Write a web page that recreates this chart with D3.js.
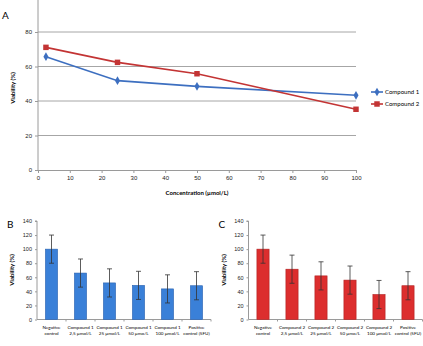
<!DOCTYPE html>
<html>
<head>
<meta charset="utf-8">
<script src="https://cdn.jsdelivr.net/npm/d3@7"></script>
<style>
  body { margin: 0; background: #fff; }
  svg { display: block; font-family: Lato, "Open Sans", sans-serif; }
  .tick text { fill: #222; }
</style>
</head>
<body>
<div id="chart"></div>
<script>
// panel A
const concentrations = [2.5, 25, 50, 100];
const compound1 = [65.7, 51.8, 48.5, 43.3];
const compound2 = [71.1, 62.4, 55.8, 35.2];
const xTicksA = [0, 10, 20, 30, 40, 50, 60, 70, 80, 90, 100];
const yTicksA = [0, 20, 40, 60, 80];

// panels B and C
const categoriesB = ["Negative|control", "Compound 1|2,5 µmol/L", "Compound 1|25 µmol/L", "Compound 1|50 µmo/L", "Compound 1|100 µmol/L", "Positive|control (5FU)"];
const categoriesC = ["Negative|control", "Compound 2|2,5 µmol/L", "Compound 2|25 µmol/L", "Compound 2|50 µmo/L", "Compound 2|100 µmol/L", "Positive|control (5FU)"];
const viabilityB = [100, 66, 52, 48.5, 43.5, 48];
const viabilityC = [100, 71.5, 62, 56, 35.5, 48];
const errorB = [20, 20, 20, 20, 20, 20];
const errorC = [20, 20, 20, 20, 20, 20];
const yTicksBar = [0, 20, 40, 60, 80, 100, 120, 140];

const width = 423, height = 346;
const blue = "#3d6fc0", red = "#c33434";

var svg = d3.select("#chart")
  .append("svg")
  .attr("width", width)
  .attr("height", height);

// ---------- A ----------
var xA = d3.scaleLinear().domain([0, 100]).range([38, 356]);
var yA = d3.scaleLinear().domain([0, 100]).range([170, -2.5]);

svg.append("g")
  .selectAll("line")
  .data(yTicksA.filter(d => d > 0))
  .enter()
  .append("line")
  .attr("x1", xA(0)).attr("x2", xA(100))
  .attr("y1", d => yA(d)).attr("y2", d => yA(d))
  .attr("stroke", "#a6a6a6")
  .attr("stroke-width", 1);

var yAxisA = svg.append("g")
  .attr("transform", `translate(${xA(0)},0)`)
  .call(d3.axisLeft(yA).tickValues(yTicksA).tickSize(3).tickPadding(3));

var xAxisA = svg.append("g")
  .attr("transform", `translate(0,${yA(0)})`)
  .call(d3.axisBottom(xA).tickValues(xTicksA).tickSize(3).tickPadding(3));

[yAxisA, xAxisA].forEach(ax => {
  ax.selectAll("path, line").attr("stroke", "#9a9a9a");
  ax.selectAll("text").style("font-size", "6px");
});
yAxisA.select(".domain").attr("d", `M0,0V${yA(0)}`);

svg.append("text")
  .attr("x", (xA(0) + xA(100)) / 2)
  .attr("y", 195)
  .attr("text-anchor", "middle")
  .style("font-size", "6px")
  .style("font-weight", "bold")
  .text("Concentration (µmol/L)");

svg.append("text")
  .attr("transform", "translate(15,88) rotate(-90)")
  .attr("text-anchor", "middle")
  .style("font-size", "6px")
  .style("font-weight", "bold")
  .text("Viability (%)");

svg.append("text")
  .attr("x", 2).attr("y", 19)
  .style("font-size", "10px")
  .text("A");

var line = d3.line()
  .x((d, i) => xA(concentrations[i]))
  .y(d => yA(d));

var series = [
  { name: "Compound 1", values: compound1, color: blue, symbol: d3.symbolDiamond, size: 22 },
  { name: "Compound 2", values: compound2, color: red, symbol: d3.symbolSquare, size: 30 }
];

series.forEach(s => {
  svg.append("path")
    .attr("d", line(s.values))
    .attr("fill", "none")
    .attr("stroke", s.color)
    .attr("stroke-width", 1.6);

  svg.append("g")
    .selectAll("path")
    .data(s.values)
    .enter()
    .append("path")
    .attr("transform", (d, i) => `translate(${xA(concentrations[i])},${yA(d)})`)
    .attr("d", d3.symbol().type(s.symbol).size(s.size))
    .attr("fill", s.color);
});

var legend = svg.append("g")
  .selectAll("g")
  .data(series)
  .enter()
  .append("g")
  .attr("transform", (d, i) => `translate(371,${92 + i * 12})`);

legend.append("line")
  .attr("x1", 0).attr("x2", 12)
  .attr("stroke", d => d.color)
  .attr("stroke-width", 1.6);
legend.append("path")
  .attr("transform", "translate(6,0)")
  .attr("d", d => d3.symbol().type(d.symbol).size(d.size)())
  .attr("fill", d => d.color);
legend.append("text")
  .attr("x", 14).attr("dy", "0.35em")
  .style("font-size", "6px")
  .text(d => d.name);

// ---------- B & C ----------
function barChart(x0, label, cats, vals, errs, fill, stroke) {
  var x = d3.scaleBand().domain(cats).range([x0, x0 + 174]).paddingInner(0.58).paddingOuter(0.29);
  var y = d3.scaleLinear().domain([0, 140]).range([319.5, 221]);

  var yAx = svg.append("g")
    .attr("transform", `translate(${x0},0)`)
    .call(d3.axisLeft(y).tickValues(yTicksBar).tickSize(2).tickPadding(3));
  yAx.selectAll("path, line").attr("stroke", "#9a9a9a");
  yAx.selectAll("text").style("font-size", "5.5px");
  yAx.select(".domain").attr("d", `M-2,${y(140)}H0V${y(0)}`);

  svg.append("line")
    .attr("x1", x0).attr("x2", x0 + 174)
    .attr("y1", y(0)).attr("y2", y(0))
    .attr("stroke", "#9a9a9a");

  svg.append("g")
    .selectAll("line")
    .data(cats)
    .enter()
    .append("line")
    .attr("x1", d => x(d) + x.bandwidth() / 2 + x.step() / 2)
    .attr("x2", d => x(d) + x.bandwidth() / 2 + x.step() / 2)
    .attr("y1", y(0)).attr("y2", y(0) + 2)
    .attr("stroke", "#9a9a9a");

  svg.append("g")
    .selectAll("rect")
    .data(vals)
    .enter()
    .append("rect")
    .attr("x", (d, i) => x(cats[i]))
    .attr("y", d => y(d))
    .attr("width", x.bandwidth())
    .attr("height", d => y(0) - y(d))
    .attr("fill", fill)
    .attr("stroke", stroke)
    .attr("stroke-width", 0.6);

  var err = svg.append("g")
    .selectAll("g")
    .data(vals)
    .enter()
    .append("g")
    .attr("transform", (d, i) => `translate(${x(cats[i]) + x.bandwidth() / 2},0)`)
    .attr("stroke", "#333")
    .attr("stroke-width", 0.8);
  err.append("line")
    .attr("y1", (d, i) => y(d + errs[i]))
    .attr("y2", (d, i) => y(d - errs[i]));
  err.append("line")
    .attr("x1", -2.5).attr("x2", 2.5)
    .attr("y1", (d, i) => y(d + errs[i])).attr("y2", (d, i) => y(d + errs[i]));
  err.append("line")
    .attr("x1", -2.5).attr("x2", 2.5)
    .attr("y1", (d, i) => y(d - errs[i])).attr("y2", (d, i) => y(d - errs[i]));

  var lab = svg.append("g")
    .selectAll("text")
    .data(cats)
    .enter()
    .append("text")
    .attr("x", d => x(d) + x.bandwidth() / 2)
    .attr("y", 329)
    .attr("text-anchor", "middle")
    .style("font-size", "4.6px");
  lab.append("tspan").text(d => d.split("|")[0]);
  lab.append("tspan")
    .attr("x", d => x(d) + x.bandwidth() / 2)
    .attr("dy", 6)
    .text(d => d.split("|")[1]);

  svg.append("text")
    .attr("transform", `translate(${x0 - 23},270) rotate(-90)`)
    .attr("text-anchor", "middle")
    .style("font-size", "6px")
    .style("font-weight", "bold")
    .text("Viability (%)");

  svg.append("text")
    .attr("x", x0 - 30).attr("y", 228)
    .style("font-size", "10px")
    .text(label);
}

barChart(37, "B", categoriesB, viabilityB, errorB, "#3a80d8", "#2a62b0");
barChart(248.5, "C", categoriesC, viabilityC, errorC, "#dc2e2e", "#b02020");
</script>
</body>
</html>
